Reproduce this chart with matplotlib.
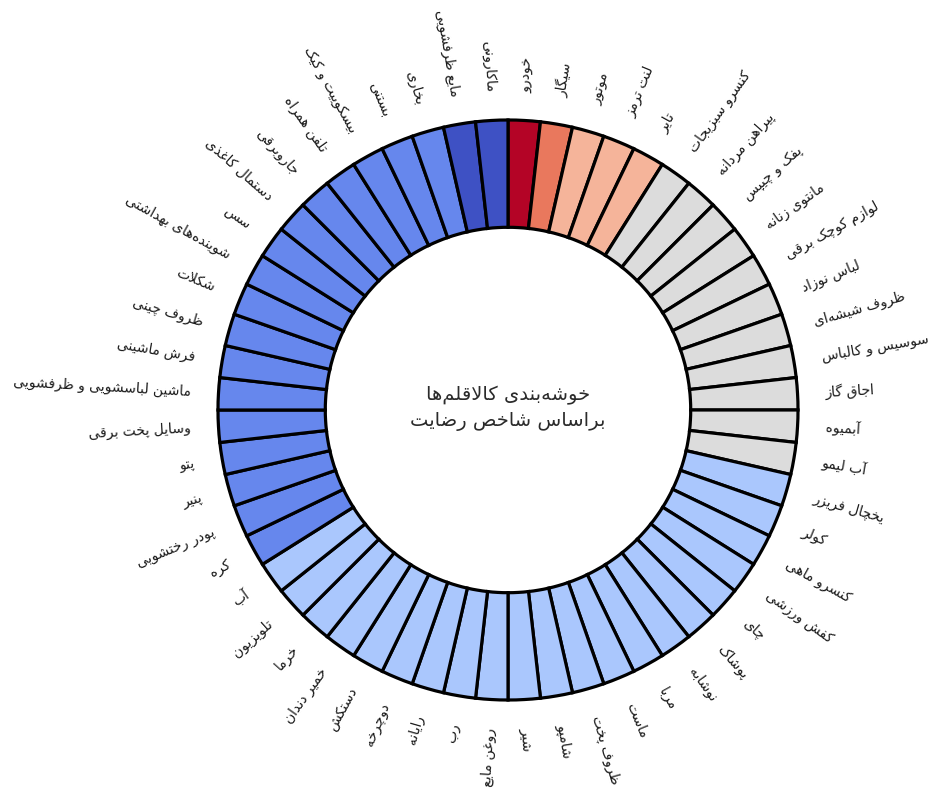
import numpy as np
import matplotlib
matplotlib.use("Agg")
import matplotlib.pyplot as plt

# ---------------- data ----------------
labels = [
    "خودرو", "سیگار", "موتور", "لنت ترمز", "تایر",
    "کنسرو سبزیجات", "پیراهن مردانه", "پفک و چیپس", "مانتوی زنانه",
    "لوازم کوچک برقی", "لباس نوزاد", "ظروف شیشه‌ای", "سوسیس و کالباس",
    "اجاق گاز", "آبمیوه", "آب لیمو",
    "یخچال فریزر", "کولر", "کنسرو ماهی", "کفش ورزشی", "چای", "پوشاک",
    "نوشابه", "مربا", "ماست", "ظروف پخت", "شامپو", "شیر", "روغن مایع",
    "رب", "رایانه", "دوچرخه", "دستکش", "خمیر دندان", "خرما", "تلویزیون", "آب",
    "کره", "پودر رختشویی", "پنیر", "پتو", "وسایل پخت برقی",
    "ماشین لباسشویی و ظرفشویی", "فرش ماشینی", "ظروف چینی", "شکلات",
    "شوینده‌های بهداشتی", "سس", "دستمال کاغذی", "جاروبرقی", "تلفن همراه",
    "بیسکوییت و کیک", "بستنی", "بخاری",
    "مایع ظرفشویی", "ماکارونی",
]
sizes = [1] * len(labels)
clusters = ([0] + [1] + [2] * 3 + [3] * 11 + [4] * 21 + [5] * 17 + [6] * 2)
cluster_colors = ["#b40426", "#e9785d", "#f5b49a", "#dcdcdc",
                  "#aac7fd", "#6687ed", "#3e51c4"]
center_title = ["خوشه‌بندی کالاقلم‌ها", "براساس شاخص رضایت"]

# ---------------- simple Persian shaping ----------------
FORMS = {
    'ا': ('\uFE8D', '\uFE8E', None, None), 'آ': ('\uFE81', '\uFE82', None, None),
    'أ': ('\uFE83', '\uFE84', None, None), 'د': ('\uFEA9', '\uFEAA', None, None),
    'ذ': ('\uFEAB', '\uFEAC', None, None), 'ر': ('\uFEAD', '\uFEAE', None, None),
    'ز': ('\uFEAF', '\uFEB0', None, None), 'ژ': ('\uFB8A', '\uFB8B', None, None),
    'و': ('\uFEED', '\uFEEE', None, None),
    'ب': ('\uFE8F', '\uFE90', '\uFE91', '\uFE92'), 'پ': ('\uFB56', '\uFB57', '\uFB58', '\uFB59'),
    'ت': ('\uFE95', '\uFE96', '\uFE97', '\uFE98'), 'ث': ('\uFE99', '\uFE9A', '\uFE9B', '\uFE9C'),
    'ج': ('\uFE9D', '\uFE9E', '\uFE9F', '\uFEA0'), 'چ': ('\uFB7A', '\uFB7B', '\uFB7C', '\uFB7D'),
    'ح': ('\uFEA1', '\uFEA2', '\uFEA3', '\uFEA4'), 'خ': ('\uFEA5', '\uFEA6', '\uFEA7', '\uFEA8'),
    'س': ('\uFEB1', '\uFEB2', '\uFEB3', '\uFEB4'), 'ش': ('\uFEB5', '\uFEB6', '\uFEB7', '\uFEB8'),
    'ص': ('\uFEB9', '\uFEBA', '\uFEBB', '\uFEBC'), 'ض': ('\uFEBD', '\uFEBE', '\uFEBF', '\uFEC0'),
    'ط': ('\uFEC1', '\uFEC2', '\uFEC3', '\uFEC4'), 'ظ': ('\uFEC5', '\uFEC6', '\uFEC7', '\uFEC8'),
    'ع': ('\uFEC9', '\uFECA', '\uFECB', '\uFECC'), 'غ': ('\uFECD', '\uFECE', '\uFECF', '\uFED0'),
    'ف': ('\uFED1', '\uFED2', '\uFED3', '\uFED4'), 'ق': ('\uFED5', '\uFED6', '\uFED7', '\uFED8'),
    'ک': ('\uFB8E', '\uFB8F', '\uFB90', '\uFB91'), 'گ': ('\uFB92', '\uFB93', '\uFB94', '\uFB95'),
    'ل': ('\uFEDD', '\uFEDE', '\uFEDF', '\uFEE0'), 'م': ('\uFEE1', '\uFEE2', '\uFEE3', '\uFEE4'),
    'ن': ('\uFEE5', '\uFEE6', '\uFEE7', '\uFEE8'), 'ه': ('\uFEE9', '\uFEEA', '\uFEEB', '\uFEEC'),
    'ی': ('\uFBFC', '\uFBFD', '\uFBFE', '\uFBFF'), 'ئ': ('\uFE89', '\uFE8A', '\uFE8B', '\uFE8C'),
}
DUAL = {c for c, f in FORMS.items() if f[2] is not None}
LAMALEF = {'ا': ('\uFEFB', '\uFEFC'), 'آ': ('\uFEF5', '\uFEF6'), 'أ': ('\uFEF7', '\uFEF8')}


def shape(s):
    out = []
    i, n = 0, len(s)
    while i < n:
        c = s[i]
        if c == '\u200c':
            i += 1
            continue
        if c not in FORMS:
            out.append(c)
            i += 1
            continue
        prev = s[i - 1] if i > 0 else None
        join_prev = prev in DUAL
        if c == 'ل' and i + 1 < n and s[i + 1] in LAMALEF:
            iso, fin = LAMALEF[s[i + 1]]
            out.append(fin if join_prev else iso)
            i += 2
            continue
        nxt = s[i + 1] if i + 1 < n else None
        join_next = c in DUAL and nxt in FORMS
        iso, fin, ini, med = FORMS[c]
        if join_prev and join_next:
            g = med
        elif join_prev:
            g = fin
        elif join_next:
            g = ini
        else:
            g = iso
        out.append(g)
        i += 1
    return ''.join(reversed(out))


# ---------------- figure ----------------
W, H = 938, 789
fig = plt.figure(figsize=(W / 100, H / 100), dpi=100)
ax = fig.add_axes([0, 0, 1, 1])

cx, cy, R = 508, 410, 290  # pixel centre and radius
colors = [cluster_colors[k] for k in clusters]
ax.pie(sizes, colors=colors, startangle=90, counterclock=False, radius=1,
       wedgeprops=dict(width=0.37, edgecolor="black", linewidth=2.3))

n = len(labels)
r_lab = 318 / R
for i, lab in enumerate(labels):
    theta = (i + 0.5) * 360.0 / n          # clockwise from top
    phi = 90.0 - theta                      # math angle
    x = r_lab * np.cos(np.radians(phi))
    y = r_lab * np.sin(np.radians(phi))
    if np.cos(np.radians(phi)) >= 0:
        rot, ha = phi, "left"
    else:
        rot, ha = phi + 180.0, "right"
    ax.text(x, y, shape(lab), rotation=rot, rotation_mode="anchor", ha=ha,
            va="center", fontsize=10, color="#1a1a1a", family="DejaVu Sans")

ax.text(0, 0.05, shape(center_title[0]), ha="center", va="center", fontsize=14,
        color="#2b2b2b", family="DejaVu Sans")
ax.text(0, -0.04, shape(center_title[1]), ha="center", va="center", fontsize=14,
        color="#2b2b2b", family="DejaVu Sans")

ax.set_xlim(-cx / R, (W - cx) / R)
ax.set_ylim(-(H - cy) / R, cy / R)
ax.set_aspect("equal")
ax.axis("off")
fig.savefig("out.png", dpi=100, facecolor="white")
